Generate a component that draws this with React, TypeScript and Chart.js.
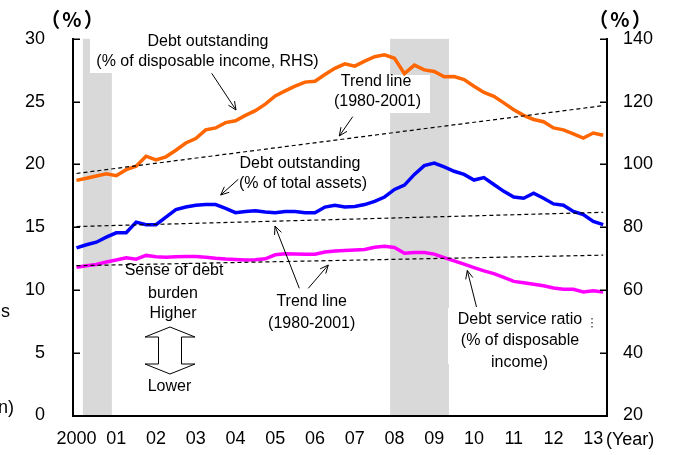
import React, { useEffect, useRef } from "react";
import { Chart, registerables } from "chart.js";

Chart.register(...registerables);

// ---------- DATA ----------
const startYear = 2000; // first quarter 2000Q1, quarterly data to 2013Q2
const quarterCount = 54;
const quarterX: number[] = Array.from({ length: quarterCount }, (_, i) => startYear + i / 4);

const yearTicks = [2000, 2001, 2002, 2003, 2004, 2005, 2006, 2007, 2008, 2009, 2010, 2011, 2012, 2013];
const yearLabels = ["2000", "01", "02", "03", "04", "05", "06", "07", "08", "09", "10", "11", "12", "13"];

// Debt outstanding (% of disposable income, RHS)
const debtToIncome = [
  94.9, 95.6, 96.3, 97.0, 96.4, 98.3, 99.4, 102.6, 101.4, 102.4,
  104.5, 106.8, 108.2, 111.0, 111.6, 113.3, 113.9, 115.6, 117.1, 119.2,
  121.8, 123.4, 124.9, 126.2, 126.5, 128.6, 130.6, 132.0, 131.3, 132.9,
  134.3, 134.9, 133.8, 128.9, 131.6, 130.1, 129.6, 127.9, 128.0, 127.0,
  124.9, 122.9, 121.7, 119.6, 117.4, 115.6, 114.3, 113.6, 111.6, 111.0,
  109.7, 108.4, 110.0, 109.3,
];
// Debt outstanding (% of total assets, LHS)
const debtToAssets = [
  13.35, 13.6, 13.8, 14.2, 14.55, 14.55, 15.4, 15.2, 15.2, 15.8,
  16.4, 16.6, 16.75, 16.8, 16.8, 16.5, 16.15, 16.25, 16.3, 16.2,
  16.15, 16.25, 16.25, 16.15, 16.15, 16.6, 16.75, 16.6, 16.65, 16.8,
  17.05, 17.4, 18.0, 18.35, 19.2, 19.9, 20.1, 19.8, 19.45, 19.2,
  18.75, 18.95, 18.4, 17.85, 17.4, 17.3, 17.7, 17.3, 16.85, 16.75,
  16.25, 16.0, 15.45, 15.2,
];
// Debt service ratio (% of disposable income, LHS)
const debtServiceRatio = [
  11.8, 11.93, 12.03, 12.22, 12.38, 12.56, 12.45, 12.75, 12.65, 12.6,
  12.65, 12.66, 12.66, 12.6, 12.52, 12.46, 12.42, 12.38, 12.4, 12.48,
  12.8, 12.88, 12.87, 12.85, 12.85, 13.02, 13.1, 13.15, 13.18, 13.22,
  13.4, 13.48, 13.38, 12.92, 12.98, 12.98, 12.85, 12.58, 12.32, 12.05,
  11.78, 11.52, 11.3, 11.0, 10.68, 10.58, 10.46, 10.33, 10.15, 10.06,
  10.05, 9.84, 9.94, 9.83,
];

// Trend lines (1980-2001), endpoints
const trendX = [2000, 2013.25];
const trendIncome = [97.1, 118.7];
const trendAssets = [15.05, 16.18];
const trendDSR = [11.93, 12.77];

// Recession shading (in years)
const recessionBands: [number, number][] = [
  [2000.16, 2000.89],
  [2007.89, 2009.37],
];

const leftTickValues = [5, 10, 15, 20, 25, 30];
const rightTickValues = [40, 60, 80, 100, 120, 140];

// ---------- ANNOTATIONS (pixel layout) ----------
const FONT = "'Liberation Sans', Arial, sans-serif";
const annotTexts: [string, number, number][] = [
  ["Debt outstanding", 208, 42],
  ["(% of disposable income, RHS)", 207.5, 62],
  ["Trend line", 376, 82],
  ["(1980-2001)", 377.5, 102],
  ["Debt outstanding", 300, 163.5],
  ["(% of total assets)", 303, 183.5],
  ["Sense of debt", 174, 271],
  ["burden", 173, 293.5],
  ["Higher", 173, 313.5],
  ["Lower", 169.5, 387],
  ["Trend line", 311.7, 302],
  ["(1980-2001)", 311.7, 323.5],
  ["Debt service ratio", 520, 320],
  ["(% of disposable", 520, 341],
  ["income)", 519.5, 363],
];
const annotArrows: [number, number, number, number][] = [
  [211.7, 73.3, 236, 110],
  [352.7, 116.7, 339.3, 136],
  [238.3, 179.3, 220.7, 195],
  [299.3, 288.3, 275, 226],
  [308.3, 288.3, 328.3, 265],
  [476.5, 307, 467.3, 270.5],
];
const whiteBoxes: [number, number, number, number][] = [
  [90, 30, 235, 43],
  [333, 75, 97, 38],
  [448, 308, 140, 56],
];

function drawArrow(ctx: CanvasRenderingContext2D, x1: number, y1: number, x2: number, y2: number) {
  const head = 9;
  const ang = Math.atan2(y2 - y1, x2 - x1);
  ctx.beginPath();
  ctx.moveTo(x1, y1);
  ctx.lineTo(x2, y2);
  ctx.stroke();
  ctx.beginPath();
  ctx.moveTo(x2 - head * Math.cos(ang - 0.42), y2 - head * Math.sin(ang - 0.42));
  ctx.lineTo(x2, y2);
  ctx.lineTo(x2 - head * Math.cos(ang + 0.42), y2 - head * Math.sin(ang + 0.42));
  ctx.stroke();
}

const decorPlugin = {
  id: "decor",
  beforeDraw(chart: any) {
    const { ctx, chartArea: a, scales } = chart;
    ctx.save();
    ctx.fillStyle = "#d9d9d9";
    for (const [s, e] of recessionBands) {
      const x0 = scales.x.getPixelForValue(s);
      const x1 = scales.x.getPixelForValue(e);
      ctx.fillRect(x0, a.top, x1 - x0, a.bottom - a.top);
    }
    ctx.fillStyle = "#ffffff";
    for (const [x, y, w, h] of whiteBoxes) ctx.fillRect(x, y, w, h);
    ctx.restore();
  },
  afterDraw(chart: any) {
    const { ctx, chartArea: a, scales } = chart;
    ctx.save();
    // inward ticks
    ctx.strokeStyle = "#000";
    ctx.lineWidth = 1.5;
    for (const v of leftTickValues) {
      const y = Math.round(scales.y.getPixelForValue(v)) + 0.25;
      ctx.beginPath();
      ctx.moveTo(a.left, y);
      ctx.lineTo(a.left + 7, y);
      ctx.stroke();
    }
    for (const v of rightTickValues) {
      const y = Math.round(scales.y1.getPixelForValue(v)) + 0.25;
      ctx.beginPath();
      ctx.moveTo(a.right, y);
      ctx.lineTo(a.right - 7, y);
      ctx.stroke();
    }
    // annotations
    ctx.fillStyle = "#000";
    ctx.font = `16px ${FONT}`;
    ctx.textAlign = "center";
    ctx.textBaseline = "middle";
    for (const [t, x, y] of annotTexts) ctx.fillText(t, x, y);
    ctx.lineWidth = 1;
    for (const [x1, y1, x2, y2] of annotArrows) drawArrow(ctx, x1, y1, x2, y2);
    // hollow double arrow
    ctx.beginPath();
    const pts = [
      [170, 327], [195, 337], [181.5, 337], [181.5, 364], [195, 364],
      [170, 374], [145, 364], [158.5, 364], [158.5, 337], [145, 337],
    ];
    ctx.moveTo(pts[0][0], pts[0][1]);
    for (const p of pts.slice(1)) ctx.lineTo(p[0], p[1]);
    ctx.closePath();
    ctx.fillStyle = "#fff";
    ctx.fill();
    ctx.stroke();
    // small dotted mark
    ctx.setLineDash([1.5, 2.5]);
    ctx.beginPath();
    ctx.moveTo(592, 318);
    ctx.lineTo(592, 329);
    ctx.stroke();
    ctx.setLineDash([]);
    // unit labels
    ctx.fillStyle = "#000";
    ctx.font = `bold 20px 'Noto Sans CJK JP', ${FONT}`;
    try { (ctx as any).letterSpacing = "2px"; } catch (e) {}
    ctx.fillText("（%）", 73, 19);
    ctx.fillText("（%）", 621, 19);
    try { (ctx as any).letterSpacing = "0px"; } catch (e) {}
    ctx.font = `18px ${FONT}`;
    ctx.textAlign = "left";
    ctx.fillText("(Year)", 606, 440);
    ctx.textAlign = "right";
    ctx.fillText("s", 10, 312);
    ctx.fillText("n)", 14, 408);
    ctx.restore();
  },
};

export default function App() {
  const ref = useRef<HTMLCanvasElement>(null);
  useEffect(() => {
    document.body.style.margin = "0";
    const toXY = (vals: number[]) => vals.map((v, i) => ({ x: quarterX[i], y: v }));
    const trendXY = (vals: number[]) => vals.map((v, i) => ({ x: trendX[i], y: v }));
    const tickFont = { size: 18, family: FONT };
    const chart = new Chart(ref.current!, {
      type: "line",
      data: {
        datasets: [
          { data: trendXY(trendIncome), yAxisID: "y1", borderColor: "#000", borderWidth: 1.2, borderDash: [4, 3], pointRadius: 0 },
          { data: trendXY(trendAssets), yAxisID: "y", borderColor: "#000", borderWidth: 1.2, borderDash: [4, 3], pointRadius: 0 },
          { data: trendXY(trendDSR), yAxisID: "y", borderColor: "#000", borderWidth: 1.2, borderDash: [4, 3], pointRadius: 0 },
          { data: toXY(debtToIncome), yAxisID: "y1", borderColor: "#ff6600", borderWidth: 3.5, pointRadius: 0, tension: 0 },
          { data: toXY(debtToAssets), yAxisID: "y", borderColor: "#0000ff", borderWidth: 3.5, pointRadius: 0, tension: 0 },
          { data: toXY(debtServiceRatio), yAxisID: "y", borderColor: "#ff00ff", borderWidth: 3.5, pointRadius: 0, tension: 0 },
        ] as any,
      },
      options: {
        animation: false,
        responsive: false,
        devicePixelRatio: 1,
        layout: { padding: { top: 34, left: 0, right: 0, bottom: 0 } },
        plugins: { legend: { display: false }, tooltip: { enabled: false } },
        scales: {
          x: {
            type: "linear",
            min: 1999.912,
            max: 2013.346,
            grid: { display: false, drawTicks: false },
            border: { display: true, color: "#000", width: 2 },
            afterBuildTicks: (s: any) => {
              s.ticks = yearTicks.map((v) => ({ value: v }));
            },
            afterFit: (s: any) => {
              s.height = 39.5;
            },
            ticks: {
              autoSkip: false,
              maxRotation: 0,
              padding: 13,
              color: "#000",
              font: tickFont,
              callback: (_v: any, i: number) => yearLabels[i],
            },
          },
          y: {
            position: "left",
            min: 0,
            max: 30,
            grid: { display: false, drawTicks: false },
            border: { display: true, color: "#000", width: 2 },
            afterFit: (s: any) => {
              s.width = 73;
            },
            ticks: { stepSize: 5, padding: 28, color: "#000", font: tickFont },
          },
          y1: {
            position: "right",
            min: 20,
            max: 140,
            grid: { display: false, drawTicks: false },
            border: { display: true, color: "#000", width: 2 },
            afterFit: (s: any) => {
              s.width = 75;
            },
            ticks: { stepSize: 20, padding: 16, color: "#000", font: tickFont },
          },
        },
      } as any,
      plugins: [decorPlugin],
    });
    return () => chart.destroy();
  }, []);
  return (
    <div style={{ width: 682, height: 455, position: "relative" }}>
      <canvas ref={ref} width={682} height={455} style={{ display: "block" }} />
    </div>
  );
}
